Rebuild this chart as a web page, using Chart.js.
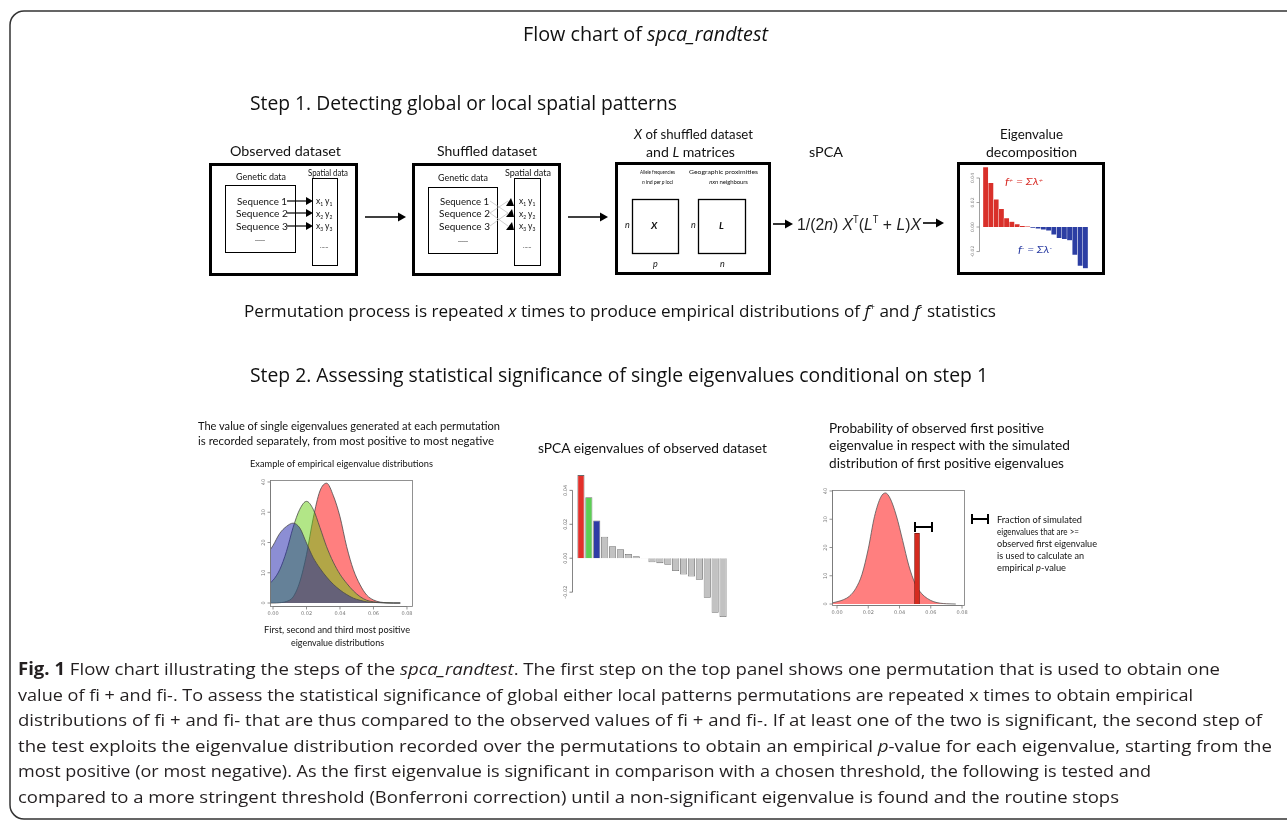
<!DOCTYPE html>
<html><head><meta charset="utf-8">
<script src="https://cdn.jsdelivr.net/npm/chart.js@4.4.1/dist/chart.umd.min.js"></script>
<style>
html,body{margin:0;padding:0;background:#fff;}
body{width:1287px;height:824px;position:relative;overflow:hidden;}
canvas{position:absolute;}
#fig{position:absolute;left:0;top:0;z-index:2;pointer-events:none;}
#fig text{font-family:"Lato","Open Sans",sans-serif;fill:#111;}
#fig text.cap{font-family:"Open Sans",sans-serif;fill:#231f20;}
#fig text.head{font-family:"Open Sans",sans-serif;fill:#111;}
</style></head><body>
<canvas id="eigen" width="135" height="106" style="left:960px;top:166px"></canvas>
<canvas id="dens" width="170" height="146" style="left:250px;top:476px"></canvas>
<canvas id="spca" width="185" height="151" style="left:550px;top:470px"></canvas>
<canvas id="sim" width="160" height="136" style="left:812px;top:486px"></canvas>

<svg id="fig" width="1287" height="824" xmlns="http://www.w3.org/2000/svg">
<rect x="10" y="11" width="1300" height="808" rx="14" fill="none" stroke="#333" stroke-width="1.5"/>
<text class="head" x="523" y="41" font-size="20" textLength="245" lengthAdjust="spacingAndGlyphs">Flow chart of <tspan font-style="italic">spca_randtest</tspan></text>
<text class="head" x="250" y="110" font-size="20" textLength="427" lengthAdjust="spacingAndGlyphs">Step 1. Detecting global or local spatial patterns</text>

<!-- box 1 -->
<text x="230" y="156" font-size="14" textLength="111" lengthAdjust="spacingAndGlyphs">Observed dataset</text>
<rect x="210.5" y="164.5" width="146" height="110" fill="none" stroke="#000" stroke-width="3"/>
<rect x="225.5" y="185.5" width="70" height="67" fill="none" stroke="#000" stroke-width="1"/>
<rect x="312.5" y="178.5" width="25" height="87" fill="none" stroke="#000" stroke-width="1"/>
<text x="236" y="180" font-size="10" textLength="50" lengthAdjust="spacingAndGlyphs">Genetic data</text>
<text x="308" y="175.5" font-size="10" textLength="40" lengthAdjust="spacingAndGlyphs">Spatial data</text>
<text x="237" y="204.5" font-size="10" textLength="50" lengthAdjust="spacingAndGlyphs">Sequence 1</text>
<text x="236" y="216.5" font-size="10" textLength="52" lengthAdjust="spacingAndGlyphs">Sequence 2</text>
<text x="236" y="229.5" font-size="10" textLength="52" lengthAdjust="spacingAndGlyphs">Sequence 3</text>
<text x="255" y="241" font-size="8" textLength="10" lengthAdjust="spacingAndGlyphs">.....</text>
<text x="316" y="204" font-size="8.5">x<tspan font-size="5" dy="2">1</tspan><tspan dy="-2"> y</tspan><tspan font-size="5" dy="2">1</tspan></text>
<text x="316" y="216.5" font-size="8.5">x<tspan font-size="5" dy="2">2</tspan><tspan dy="-2"> y</tspan><tspan font-size="5" dy="2">2</tspan></text>
<text x="316" y="229" font-size="8.5">x<tspan font-size="5" dy="2">3</tspan><tspan dy="-2"> y</tspan><tspan font-size="5" dy="2">3</tspan></text>
<text x="320" y="248" font-size="6" fill="#777">......</text>
<g stroke="#000" stroke-width="1.2">
<line x1="287" y1="201" x2="307" y2="201"/><line x1="287" y1="213" x2="307" y2="213"/><line x1="287" y1="226" x2="307" y2="226"/>
</g>
<g fill="#000">
<polygon points="306,197 313,201 306,205"/><polygon points="306,209 313,213 306,217"/><polygon points="306,222 313,226 306,230"/>
</g>

<!-- arrow 1 -->
<line x1="365" y1="217" x2="399" y2="217" stroke="#000" stroke-width="1.6"/>
<polygon points="398,212.5 406,217 398,221.5" fill="#000"/>

<!-- box 2 -->
<text x="437" y="156" font-size="14" textLength="100" lengthAdjust="spacingAndGlyphs">Shuffled dataset</text>
<rect x="413.5" y="164.5" width="146" height="110" fill="none" stroke="#000" stroke-width="3"/>
<rect x="428.5" y="187.5" width="69" height="66" fill="none" stroke="#000" stroke-width="1"/>
<rect x="514.5" y="178.5" width="26" height="87" fill="none" stroke="#000" stroke-width="1"/>
<text x="438" y="181" font-size="10" textLength="50" lengthAdjust="spacingAndGlyphs">Genetic data</text>
<text x="505" y="175.5" font-size="10" textLength="46" lengthAdjust="spacingAndGlyphs">Spatial data</text>
<text x="440" y="205" font-size="10" textLength="49" lengthAdjust="spacingAndGlyphs">Sequence 1</text>
<text x="439" y="217" font-size="10" textLength="51" lengthAdjust="spacingAndGlyphs">Sequence 2</text>
<text x="439" y="230" font-size="10" textLength="51" lengthAdjust="spacingAndGlyphs">Sequence 3</text>
<text x="458" y="242" font-size="8" textLength="10" lengthAdjust="spacingAndGlyphs">.....</text>
<text x="519" y="204" font-size="8.5">x<tspan font-size="5" dy="2">1</tspan><tspan dy="-2"> y</tspan><tspan font-size="5" dy="2">1</tspan></text>
<text x="519" y="216.5" font-size="8.5">x<tspan font-size="5" dy="2">2</tspan><tspan dy="-2"> y</tspan><tspan font-size="5" dy="2">2</tspan></text>
<text x="519" y="229" font-size="8.5">x<tspan font-size="5" dy="2">3</tspan><tspan dy="-2"> y</tspan><tspan font-size="5" dy="2">3</tspan></text>
<text x="523" y="248" font-size="6" fill="#777">......</text>
<g stroke="#bbb" stroke-width="0.7">
<line x1="490" y1="201" x2="508" y2="213"/><line x1="490" y1="213" x2="508" y2="201"/><line x1="490" y1="226" x2="508" y2="213"/><line x1="490" y1="213" x2="508" y2="226"/>
</g>
<g fill="#000">
<polygon points="506,206 514,206 511,198"/><polygon points="506,217 514,217 512,209"/><polygon points="506,230 514,230 512,222"/>
</g>

<!-- arrow 2 -->
<line x1="568" y1="217" x2="601" y2="217" stroke="#000" stroke-width="1.6"/>
<polygon points="600,212.5 608,217 600,221.5" fill="#000"/>

<!-- box 3 -->
<text x="634" y="139" font-size="14" textLength="119" lengthAdjust="spacingAndGlyphs"><tspan font-style="italic">X</tspan> of shuffled dataset</text>
<text x="646" y="157" font-size="14" textLength="89" lengthAdjust="spacingAndGlyphs">and <tspan font-style="italic">L</tspan> matrices</text>
<rect x="616.5" y="163.5" width="153" height="110" fill="none" stroke="#000" stroke-width="3"/>
<rect x="632.5" y="199.5" width="46" height="54" fill="none" stroke="#000" stroke-width="1.3"/>
<rect x="698.5" y="199.5" width="47" height="54" fill="none" stroke="#000" stroke-width="1.3"/>
<text x="640" y="174" font-size="6.3" textLength="35" lengthAdjust="spacingAndGlyphs">Allele frequencies</text>
<text x="657.5" y="183.5" font-size="5.2" text-anchor="middle" letter-spacing="-0.15"><tspan font-style="italic">n</tspan> ind per <tspan font-style="italic">p</tspan> loci</text>
<text x="689" y="174" font-size="6.3" textLength="69" lengthAdjust="spacingAndGlyphs">Geographic proximities</text>
<text x="728.5" y="183.5" font-size="6" text-anchor="middle" letter-spacing="-0.1"><tspan font-style="italic">nxn</tspan> neighbours</text>
<text x="625" y="228" font-size="9" font-style="italic">n</text>
<text x="651" y="228.5" font-size="10" font-style="italic" font-weight="700">X</text>
<text x="653" y="267" font-size="9" font-style="italic">p</text>
<text x="691" y="228" font-size="9" font-style="italic">n</text>
<text x="719" y="228.5" font-size="10" font-style="italic" font-weight="700">L</text>
<text x="720" y="267" font-size="9" font-style="italic">n</text>

<!-- sPCA -->
<text x="809" y="157" font-size="14" textLength="34" lengthAdjust="spacingAndGlyphs">sPCA</text>
<line x1="773" y1="224" x2="786" y2="224" stroke="#000" stroke-width="1.6"/>
<polygon points="785,219.5 793,224 785,228.5" fill="#000"/>
<text x="797" y="230" font-size="17" style="font-family:'Liberation Sans',Arial,sans-serif;fill:#222" textLength="124" lengthAdjust="spacingAndGlyphs">1/(2<tspan font-style="italic">n</tspan>) <tspan font-style="italic">X</tspan><tspan font-size="10" dy="-7">T</tspan><tspan dy="7">(</tspan><tspan font-style="italic">L</tspan><tspan font-size="10" dy="-7">T</tspan><tspan dy="7"> + </tspan><tspan font-style="italic">L</tspan>)<tspan font-style="italic">X</tspan></text>
<line x1="923" y1="223" x2="937" y2="223" stroke="#000" stroke-width="1.6"/>
<polygon points="936,218.5 944,223 936,227.5" fill="#000"/>

<!-- box 4 -->
<text x="1000" y="139" font-size="14" textLength="63" lengthAdjust="spacingAndGlyphs">Eigenvalue</text>
<text x="986" y="157" font-size="14" textLength="91" lengthAdjust="spacingAndGlyphs">decomposition</text>
<rect x="958.5" y="163.5" width="145" height="110" fill="none" stroke="#000" stroke-width="3"/>
<text x="1005" y="185" font-size="9" font-style="italic" style="fill:#d9302a" textLength="38" lengthAdjust="spacingAndGlyphs">f<tspan font-size="5.5" dy="-3">+</tspan><tspan dy="3"> = Σλ</tspan><tspan font-size="5.5" dy="-3">+</tspan></text>
<text x="1018" y="253" font-size="9" font-style="italic" style="fill:#2c3ea3" textLength="34" lengthAdjust="spacingAndGlyphs">f<tspan font-size="5.5" dy="-3">-</tspan><tspan dy="3"> = Σλ</tspan><tspan font-size="5.5" dy="-3">-</tspan></text>

<text class="head" x="244" y="317" font-size="17" textLength="752" lengthAdjust="spacingAndGlyphs">Permutation process is repeated <tspan font-style="italic">x</tspan> times to produce empirical distributions of <tspan font-style="italic">f</tspan><tspan font-size="9" dy="-7">+</tspan><tspan dy="7"> and </tspan><tspan font-style="italic">f</tspan><tspan font-size="9" dy="-7">-</tspan><tspan dy="7"> statistics</tspan></text>
<text class="head" x="250" y="382" font-size="20" textLength="738" lengthAdjust="spacingAndGlyphs">Step 2. Assessing statistical significance of single eigenvalues conditional on step 1</text>

<!-- step 2 texts -->
<text x="198" y="430" font-size="12" textLength="302" lengthAdjust="spacingAndGlyphs">The value of single eigenvalues generated at each permutation</text>
<text x="198" y="445" font-size="12" textLength="296" lengthAdjust="spacingAndGlyphs">is recorded separately, from most positive to most negative</text>
<text x="250" y="466.5" font-size="10" textLength="183" lengthAdjust="spacingAndGlyphs">Example of empirical eigenvalue distributions</text>
<text x="264" y="633" font-size="10" textLength="146" lengthAdjust="spacingAndGlyphs">First, second and third most positive</text>
<text x="291" y="646" font-size="9" textLength="93" lengthAdjust="spacingAndGlyphs">eigenvalue distributions</text>
<text x="538" y="452.5" font-size="13" textLength="229" lengthAdjust="spacingAndGlyphs">sPCA eigenvalues of observed dataset</text>
<text x="829" y="432.5" font-size="14" textLength="215" lengthAdjust="spacingAndGlyphs">Probability of observed first positive</text>
<text x="829" y="450" font-size="14" textLength="241" lengthAdjust="spacingAndGlyphs">eigenvalue in respect with the simulated</text>
<text x="829" y="468" font-size="14" textLength="235" lengthAdjust="spacingAndGlyphs">distribution of first positive eigenvalues</text>
<g stroke="#000" stroke-width="2">
<line x1="915" y1="527" x2="932" y2="527"/><line x1="915" y1="522" x2="915" y2="532"/><line x1="932" y1="522" x2="932" y2="532"/>
<line x1="972" y1="519" x2="988" y2="519"/><line x1="972" y1="514" x2="972" y2="524"/><line x1="988" y1="514" x2="988" y2="524"/>
</g>
<text x="997" y="523" font-size="9.3" textLength="85" lengthAdjust="spacingAndGlyphs">Fraction of simulated</text>
<text x="997" y="535" font-size="9.3" textLength="82" lengthAdjust="spacingAndGlyphs">eigenvalues that are &gt;=</text>
<text x="997" y="547" font-size="9.3" textLength="100" lengthAdjust="spacingAndGlyphs">observed first eigenvalue</text>
<text x="997" y="559" font-size="9.3" textLength="87" lengthAdjust="spacingAndGlyphs">is used to calculate an</text>
<text x="997" y="571" font-size="9.3" textLength="69" lengthAdjust="spacingAndGlyphs">empirical <tspan font-style="italic">p</tspan>-value</text>

<!-- caption -->
<text class="cap" x="18" y="675" font-size="17" textLength="1202" lengthAdjust="spacingAndGlyphs"><tspan font-weight="700">Fig. 1</tspan> Flow chart illustrating the steps of the <tspan font-style="italic">spca_randtest</tspan>. The first step on the top panel shows one permutation that is used to obtain one</text>
<text class="cap" x="18" y="701" font-size="17" textLength="1175" lengthAdjust="spacingAndGlyphs">value of fi + and fi-. To assess the statistical significance of global either local patterns permutations are repeated x times to obtain empirical</text>
<text class="cap" x="18" y="726" font-size="17" textLength="1244" lengthAdjust="spacingAndGlyphs">distributions of fi + and fi- that are thus compared to the observed values of fi + and fi-. If at least one of the two is significant, the second step of</text>
<text class="cap" x="18" y="752" font-size="17" textLength="1254" lengthAdjust="spacingAndGlyphs">the test exploits the eigenvalue distribution recorded over the permutations to obtain an empirical <tspan font-style="italic">p</tspan>-value for each eigenvalue, starting from the</text>
<text class="cap" x="18" y="777" font-size="17" textLength="1133" lengthAdjust="spacingAndGlyphs">most positive (or most negative). As the first eigenvalue is significant in comparison with a chosen threshold, the following is tested and</text>
<text class="cap" x="18" y="803" font-size="17" textLength="1101" lengthAdjust="spacingAndGlyphs">compared to a more stringent threshold (Bonferroni correction) until a non-significant eigenvalue is found and the routine stops</text>
</svg>

<script>
// ---- data ----
const eigenDecomp = [0.049, 0.036, 0.0225, 0.0148, 0.0074, 0.0044, 0.0025, 0.001, 0.0005,
  -0.0005, -0.0014, -0.0022, -0.003, -0.0063, -0.009, -0.0099, -0.011, -0.0227, -0.0318, -0.0337];
const eigenRank = eigenDecomp.map((_, i) => String(i + 1));
const eigenTicks = [-0.02, 0, 0.02, 0.04];

const spcaObserved = [0.049, 0.0359, 0.0222, 0.0127, 0.0071, 0.0053, 0.0025, 0.0012, 0.0002,
  -0.0024, -0.0029, -0.0039, -0.0075, -0.0096, -0.0108, -0.0127, -0.0233, -0.0322, -0.0347];
const spcaRank = spcaObserved.map((_, i) => String(i + 1));

const densityX = [-0.0018, 0, 0.004, 0.008, 0.012, 0.016, 0.020, 0.024, 0.028, 0.032, 0.036,
  0.040, 0.044, 0.048, 0.052, 0.056, 0.060, 0.064, 0.068, 0.072, 0.076];
const firstDensity = [0, 0, 0.1, 0.5, 2, 7, 16, 28, 37, 39.6, 35.5, 28.5, 18.6, 11, 6, 2.6, 1, 0.3, 0.1, 0, 0];
const secondDensity = [6.6, 7.5, 11, 17, 25, 31, 33.6, 31, 25, 18.6, 13.5, 9.5, 6.5, 4, 2.1, 0.9, 0.4, 0.15, 0.05, 0, 0];
const thirdDensity = [17.5, 19, 23, 25.3, 26.4, 24.8, 19.8, 15, 11.5, 8.6, 6.2, 4.3, 2.8, 1.6, 0.9, 0.4, 0.2, 0.1, 0, 0, 0];
const densityYTicks = [0, 10, 20, 30, 40];
const densityXTicks = [0, 0.02, 0.04, 0.06, 0.08];

const simFirstX = [-0.003, 0, 0.004, 0.008, 0.012, 0.016, 0.020, 0.024, 0.028, 0.031, 0.034,
  0.038, 0.042, 0.046, 0.050, 0.054, 0.058, 0.062, 0.066, 0.070, 0.076];
const simFirstY = [0.4, 0.8, 1.5, 2.8, 5.5, 10.5, 19.5, 31, 37.8, 39.3, 37.4, 31.2, 22.5, 13.5, 7.2, 3.8, 1.9, 0.8, 0.3, 0.1, 0];
const observedFirst = [0.0512];
const observedMarkHeight = [25];

// ---- R-style axes drawn from the chart's own scales ----
const axisSpecs = {
  eigen: { color: '#888', fontSize: 4.5, y: { ticks: eigenTicks, offset: 4, fmt: v => v.toFixed(2) } },
  spca: { color: '#666', fontSize: 5, y: { ticks: eigenTicks, offset: 5, fmt: v => v.toFixed(2) } },
  dens: { color: '#777', fontSize: 5, frame: true,
    y: { ticks: densityYTicks, offset: 0, fmt: v => String(v) },
    x: { ticks: densityXTicks, offset: 0, fmt: v => v.toFixed(2) } },
  sim: { color: '#777', fontSize: 5, frame: true,
    y: { ticks: densityYTicks, offset: 0, fmt: v => String(v) },
    x: { ticks: densityXTicks, offset: 0, fmt: v => v.toFixed(2) } }
};

const rAxis = {
  id: 'rAxis',
  afterDatasetsDraw(chart) {
    const spec = axisSpecs[chart.canvas.id];
    if (!spec) return;
    const ctx = chart.ctx, a = chart.chartArea;
    ctx.save();
    ctx.lineWidth = 0.8;
    ctx.strokeStyle = spec.color;
    ctx.fillStyle = spec.color;
    ctx.font = spec.fontSize + 'px "DejaVu Sans", sans-serif';
    if (spec.frame) ctx.strokeRect(a.left + 0.5, a.top + 0.5, a.right - a.left - 1, a.bottom - a.top - 1);
    if (spec.y) {
      const s = chart.scales.y, x0 = a.left - spec.y.offset + 0.5;
      const px = spec.y.ticks.map(v => s.getPixelForValue(v));
      ctx.beginPath();
      ctx.moveTo(x0, Math.min(...px)); ctx.lineTo(x0, Math.max(...px));
      px.forEach(p => { ctx.moveTo(x0, p); ctx.lineTo(x0 - 3, p); });
      ctx.stroke();
      ctx.textAlign = 'center'; ctx.textBaseline = 'bottom';
      spec.y.ticks.forEach((v, i) => {
        ctx.save(); ctx.translate(x0 - 4, px[i]); ctx.rotate(-Math.PI / 2);
        ctx.fillText(spec.y.fmt(v), 0, 0); ctx.restore();
      });
    }
    if (spec.x) {
      const s = chart.scales.x, y0 = a.bottom + spec.x.offset - 0.5;
      const px = spec.x.ticks.map(v => s.getPixelForValue(v));
      ctx.beginPath();
      ctx.moveTo(Math.min(...px), y0); ctx.lineTo(Math.max(...px), y0);
      px.forEach(p => { ctx.moveTo(p, y0); ctx.lineTo(p, y0 + 3); });
      ctx.stroke();
      ctx.textAlign = 'center'; ctx.textBaseline = 'top';
      spec.x.ticks.forEach((v, i) => ctx.fillText(spec.x.fmt(v), px[i], y0 + 5));
    }
    ctx.restore();
  }
};
Chart.register(rAxis);

const base = (padding, xs, ys) => ({
  responsive: false, animation: false, events: [],
  layout: { padding },
  plugins: { legend: { display: false }, tooltip: { enabled: false } },
  scales: { x: xs, y: ys }
});

// Eigenvalue decomposition (step 1)
new Chart(document.getElementById('eigen'), {
  type: 'bar',
  data: { labels: eigenRank, datasets: [{
    data: eigenDecomp,
    backgroundColor: c => (c.raw >= 0 ? '#d9302a' : '#2c3ea3'),
    borderColor: 'rgba(255,255,255,0.55)', borderWidth: 0.5,
    barPercentage: 1, categoryPercentage: 1
  }] },
  options: base({ left: 23, right: 7, top: 0, bottom: 0 },
    { display: false }, { display: false, min: -0.0367, max: 0.0498 })
});

// sPCA eigenvalues of observed dataset
new Chart(document.getElementById('spca'), {
  type: 'bar',
  data: { labels: spcaRank, datasets: [{
    data: spcaObserved,
    backgroundColor: c => ['#e3302a', '#5ccf55', '#2e3ca6'][c.dataIndex] || '#c2c2c2',
    borderColor: '#6a6a6a', borderWidth: 0.8,
    barPercentage: 1, categoryPercentage: 0.9
  }] },
  options: base({ left: 27, right: 8, top: 0, bottom: 0 },
    { display: false }, { display: false, min: -0.037, max: 0.052 })
});

// Empirical distributions of first three eigenvalues
const curve = (ys, fill, order) => ({
  data: densityX.map((x, i) => ({ x, y: ys[i] })),
  borderColor: '#4a4a4a', borderWidth: 0.8, backgroundColor: fill,
  fill: 'origin', pointRadius: 0, cubicInterpolationMode: 'monotone', order
});
new Chart(document.getElementById('dens'), {
  type: 'line',
  data: { datasets: [
    curve(thirdDensity, 'rgba(25,29,169,0.5)', 1),
    curve(secondDensity, 'rgba(101,205,15,0.5)', 2),
    curve(firstDensity, 'rgba(255,0,0,0.5)', 3)
  ] },
  options: base({ left: 20, right: 7, top: 4, bottom: 15 },
    { type: 'linear', display: false, min: -0.0018, max: 0.0836 },
    { display: false, min: -1.32, max: 40.66 })
});

// Simulated first positive eigenvalue with observed value
new Chart(document.getElementById('sim'), {
  type: 'line',
  data: { datasets: [
    { type: 'bar', data: observedFirst.map((x, i) => ({ x, y: observedMarkHeight[i] })),
      backgroundColor: '#d42b1f', borderColor: '#7a160e', borderWidth: 0.8, barThickness: 5, order: 0 },
    { data: simFirstX.map((x, i) => ({ x, y: simFirstY[i] })),
      borderColor: '#555', borderWidth: 0.8, backgroundColor: 'rgba(255,0,0,0.5)',
      fill: 'origin', pointRadius: 0, cubicInterpolationMode: 'monotone', order: 1 }
  ] },
  options: base({ left: 20, right: 7, top: 4, bottom: 16 },
    { type: 'linear', display: false, offset: false, min: -0.0032, max: 0.0819 },
    { display: false, min: -0.7, max: 40.35 })
});
</script>
</body></html>
